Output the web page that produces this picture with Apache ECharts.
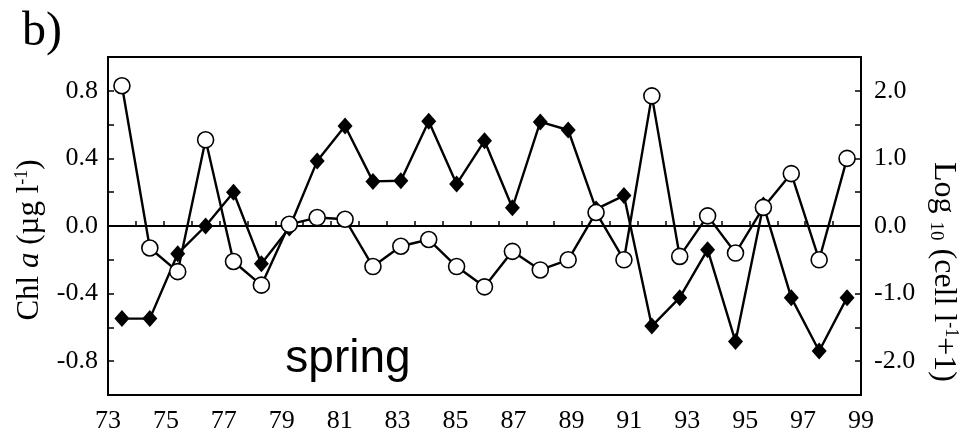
<!DOCTYPE html>
<html>
<head>
<meta charset="utf-8">
<script src="https://cdn.jsdelivr.net/npm/echarts@6/dist/echarts.min.js"></script>
<style>
  html, body { margin: 0; padding: 0; background: #fff; }
  #main { width: 961px; height: 434px; }
</style>
</head>
<body>
<div id="main"></div>
<script>
// years 1973-1999, one sample per year
var years = ['73','74','75','76','77','78','79','80','81','82','83','84','85','86',
             '87','88','89','90','91','92','93','94','95','96','97','98','99'];
// open circles, Chl a (left axis)
var chlA = [0.83, -0.13, -0.27, 0.51, -0.21, -0.35, 0.01, 0.05, 0.04, -0.24, -0.12, -0.08, -0.24, -0.36,
            -0.15, -0.26, -0.20, 0.08, -0.20, 0.77, -0.18, 0.06, -0.16, 0.11, 0.31, -0.20, 0.40];
// filled diamonds, log10 cells (right axis)
var cells = [-1.37, -1.37, -0.41, 0.0, 0.5, -0.56, -0.03, 0.96, 1.48, 0.66, 0.67, 1.55, 0.62, 1.26,
             0.27, 1.54, 1.42, 0.25, 0.45, -1.48, -1.06, -0.35, -1.71, 0.31, -1.06, -1.85, -1.06];
var leftLabels = [-0.8, -0.4, 0, 0.4, 0.8];
var rightLabels = [-2, -1, 0, 1, 2];

var serif = 'Liberation Serif';
var chart = echarts.init(document.getElementById('main'));

function pick(list) {
  return function (v) {
    for (var i = 0; i < list.length; i++) {
      if (Math.abs(list[i] - v) < 1e-6) return v.toFixed(1);
    }
    return '';
  };
}

var option = {
  animation: false,
  grid: {
    left: 108, right: 100, top: 57, bottom: 36,
    show: true, borderColor: '#000', borderWidth: 2
  },
  xAxis: [
    {
      // sample axis, drawn on the zero line with ticks between years
      type: 'category',
      data: years,
      position: 'bottom',
      boundaryGap: true,
      axisLine: { show: true, onZero: true, onZeroAxisIndex: 0, lineStyle: { color: '#000', width: 2 } },
      axisTick: { show: true, inside: true, length: 5, lineStyle: { color: '#000', width: 1.5 } },
      axisLabel: { show: false },
      splitLine: { show: false }
    },
    {
      type: 'value',
      position: 'bottom',
      min: 73, max: 99, interval: 2,
      axisLine: { show: false, onZero: false },
      axisTick: { show: false },
      axisLabel: { color: '#000', fontFamily: serif, fontSize: 26, margin: 13 },
      splitLine: { show: false }
    }
  ],
  yAxis: [
    {
      type: 'value',
      position: 'left',
      min: -1, max: 1, interval: 0.2,
      axisLine: { show: true, lineStyle: { color: '#000', width: 2 } },
      axisTick: { show: true, inside: true, length: 6, lineStyle: { color: '#000', width: 1.5 } },
      axisLabel: { color: '#000', fontFamily: serif, fontSize: 26, margin: 10, formatter: pick(leftLabels) },
      splitLine: { show: false }
    },
    {
      type: 'value',
      position: 'right',
      min: -2.5, max: 2.5, interval: 0.5,
      axisLine: { show: true, lineStyle: { color: '#000', width: 2 } },
      axisTick: { show: true, inside: true, length: 6, lineStyle: { color: '#000', width: 1.5 } },
      axisLabel: { color: '#000', fontFamily: serif, fontSize: 26, margin: 13, formatter: pick(rightLabels) },
      splitLine: { show: false }
    }
  ],
  series: [
    {
      name: 'cells',
      type: 'line',
      xAxisIndex: 0,
      yAxisIndex: 1,
      data: cells,
      symbol: 'diamond',
      symbolSize: [15, 17],
      lineStyle: { color: '#000', width: 2.4 },
      itemStyle: { color: '#000' }
    },
    {
      name: 'Chl a',
      type: 'line',
      xAxisIndex: 0,
      yAxisIndex: 0,
      data: chlA,
      symbol: 'circle',
      symbolSize: 16,
      lineStyle: { color: '#000', width: 2.4 },
      itemStyle: { color: '#fff', borderColor: '#000', borderWidth: 1.6 }
    }
  ],
  graphic: [
    {
      type: 'text', left: 22, top: 8,
      style: { text: 'b)', font: '48px "Liberation Serif"', fill: '#000' }
    },
    {
      type: 'text', x: 30, y: 240, rotation: Math.PI / 2,
      style: {
        text: '{n|Chl }{i|a}{n| (µg l}{s|-1}{n|)}',
        align: 'center', verticalAlign: 'middle',
        rich: {
          n: { fontFamily: serif, fontSize: 31, fill: '#000', lineHeight: 34 },
          i: { fontFamily: serif, fontSize: 31, fontStyle: 'italic', fill: '#000', lineHeight: 34 },
          s: { fontFamily: serif, fontSize: 18, fill: '#000', verticalAlign: 'top', lineHeight: 34 }
        }
      }
    },
    {
      type: 'text', x: 943, y: 272, rotation: -Math.PI / 2,
      style: {
        text: '{n|Log }{b|10}{n| (cell l}{s|-1}{n|+1)}',
        align: 'center', verticalAlign: 'middle',
        rich: {
          n: { fontFamily: serif, fontSize: 32, fill: '#000', lineHeight: 34 },
          b: { fontFamily: serif, fontSize: 19, fill: '#000', verticalAlign: 'bottom', lineHeight: 34 },
          s: { fontFamily: serif, fontSize: 18, fill: '#000', verticalAlign: 'top', lineHeight: 34 }
        }
      }
    },
    {
      type: 'text', x: 348, y: 359,
      style: {
        text: 'spring', font: '46px "Liberation Sans"', fill: '#000',
        align: 'center', verticalAlign: 'middle'
      }
    }
  ]
};

chart.setOption(option);
</script>
</body>
</html>
